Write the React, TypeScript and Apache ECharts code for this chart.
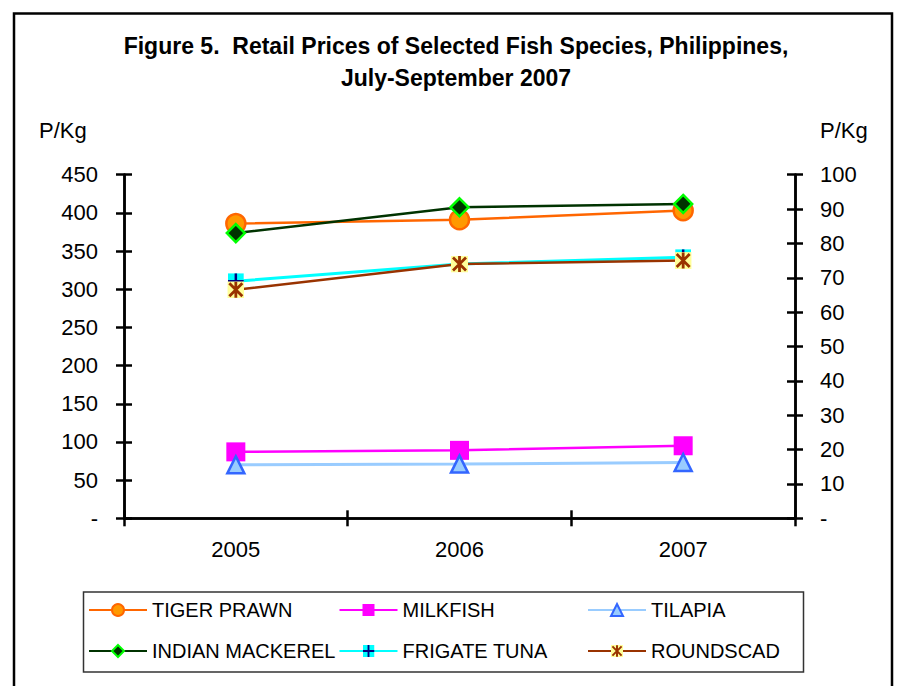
import React, { useEffect, useRef } from "react";
import * as echarts from "echarts";

const years = ["2005", "2006", "2007"];
const tigerPrawn = [386, 391, 403];
const milkfish = [87, 89, 95];
const tilapia = [70, 71, 73];
const indianMackerel = [83, 90.5, 91.5];
const frigateTuna = [69, 74, 76];
const roundscad = [66.5, 74, 75];

const seriesNames = [
  "TIGER PRAWN",
  "MILKFISH",
  "TILAPIA",
  "INDIAN MACKEREL",
  "FRIGATE TUNA",
  "ROUNDSCAD",
];

const titleLines = [
  "Figure 5.  Retail Prices of Selected Fish Species, Philippines,",
  "July-September 2007",
];

const FONT = "'Liberation Sans', Arial, Helvetica, sans-serif";

const svgUri = (s: string) =>
  "image://data:image/svg+xml;charset=utf-8," + encodeURIComponent(s);

const roundscadSymbol = svgUri(
  '<svg xmlns="http://www.w3.org/2000/svg" width="34" height="34" viewBox="0 0 17 17"><rect width="17" height="17" fill="#FFFF99"/><path d="M2 2L15 15M15 2L2 15M8.5 0.5V16.5" stroke="#993300" stroke-width="2.8" fill="none"/></svg>'
);
const frigateSymbol = svgUri(
  '<svg xmlns="http://www.w3.org/2000/svg" width="32" height="32" viewBox="0 0 16 16"><rect width="16" height="16" fill="#00FFFF"/><path d="M8 0V16M0 8H16" stroke="#000080" stroke-width="2.5" fill="none"/></svg>'
);

export default function App() {
  const ref = useRef<HTMLDivElement>(null);
  useEffect(() => {
    if (!ref.current) return;
    const chart = echarts.init(ref.current, null, { renderer: "svg" });
    const tickFmt = (v: number) => (v === 0 ? "-" : String(v));
    const axisLineStyle = { color: "#000", width: 2.5 };
    const baseY = (pos: string, max: number, interval: number) => ({
      type: "value",
      position: pos,
      min: 0,
      max,
      interval,
      splitLine: { show: false },
    });
    const colLefts = [88, 338.5, 587];
    const rowTops = [599, 640];
    const legends = seriesNames.map((name, i) => ({
      left: colLefts[i % 3],
      top: rowTops[Math.floor(i / 3)],
      orient: "horizontal",
      padding: 0,
      itemWidth: 58,
      itemHeight: 15,
      textStyle: {
        fontFamily: FONT,
        fontSize: 20,
        color: "#000",
        lineHeight: 22,
      },
      data: [name],
    }));
    chart.setOption({
      animation: false,
      grid: { left: 124, right: 102, top: 174.7, bottom: 167.7 },
      graphic: [
        {
          type: "rect",
          shape: { x: 14, y: 13.5, width: 878, height: 720 },
          style: { fill: "none", stroke: "#000", lineWidth: 2.5 },
        },
        {
          type: "rect",
          shape: { x: 83.5, y: 592, width: 720, height: 80 },
          style: { fill: "none", stroke: "#333", lineWidth: 1.5 },
        },
        {
          type: "text",
          x: 456,
          y: 46,
          style: {
            text: titleLines[0],
            font: `bold 23px ${FONT}`,
            fill: "#000",
            textAlign: "center",
            textVerticalAlign: "middle",
          },
        },
        {
          type: "text",
          x: 456,
          y: 78,
          style: {
            text: titleLines[1],
            font: `bold 23px ${FONT}`,
            fill: "#000",
            textAlign: "center",
            textVerticalAlign: "middle",
          },
        },
        {
          type: "text",
          x: 39,
          y: 130,
          style: {
            text: "P/Kg",
            font: `22px ${FONT}`,
            fill: "#000",
            textAlign: "left",
            textVerticalAlign: "middle",
          },
        },
        {
          type: "text",
          x: 820,
          y: 130,
          style: {
            text: "P/Kg",
            font: `22px ${FONT}`,
            fill: "#000",
            textAlign: "left",
            textVerticalAlign: "middle",
          },
        },
      ],
      legend: legends,
      xAxis: [
        {
          type: "category",
          data: years,
          boundaryGap: true,
          position: "bottom",
          axisLine: { show: true, lineStyle: axisLineStyle },
          axisTick: { show: true, interval: 0, length: 8, lineStyle: axisLineStyle },
          axisLabel: { fontFamily: FONT, fontSize: 22, color: "#000", margin: 20 },
        },
        {
          type: "category",
          data: years,
          boundaryGap: true,
          position: "bottom",
          axisLine: { show: true, lineStyle: axisLineStyle },
          axisTick: { show: true, inside: true, interval: 0, length: 8, lineStyle: axisLineStyle },
          axisLabel: { show: false },
        },
      ],
      yAxis: [
        {
          ...baseY("left", 450, 50),
          axisLine: { show: true, lineStyle: axisLineStyle },
          axisTick: { show: true, length: 8, lineStyle: axisLineStyle },
          axisLabel: {
            formatter: tickFmt,
            fontFamily: FONT,
            fontSize: 22,
            color: "#000",
            margin: 26,
          },
        },
        {
          ...baseY("right", 100, 10),
          axisLine: { show: true, lineStyle: axisLineStyle },
          axisTick: { show: true, length: 8, lineStyle: axisLineStyle },
          axisLabel: {
            formatter: tickFmt,
            fontFamily: FONT,
            fontSize: 22,
            color: "#000",
            margin: 25,
          },
        },
        {
          ...baseY("left", 450, 50),
          axisLine: { show: true, lineStyle: axisLineStyle },
          axisTick: { show: true, inside: true, length: 8, lineStyle: axisLineStyle },
          axisLabel: { show: false },
        },
        {
          ...baseY("right", 100, 10),
          axisLine: { show: true, lineStyle: axisLineStyle },
          axisTick: { show: true, inside: true, length: 8, lineStyle: axisLineStyle },
          axisLabel: { show: false },
        },
      ],
      series: [
        {
          name: seriesNames[0],
          type: "line",
          yAxisIndex: 0,
          data: tigerPrawn,
          symbol: "circle",
          symbolSize: 19,
          lineStyle: { color: "#FF6600", width: 2.5 },
          itemStyle: { color: "#FF9900", borderColor: "#FF6600", borderWidth: 2.5 },
        },
        {
          name: seriesNames[1],
          type: "line",
          yAxisIndex: 0,
          data: milkfish,
          symbol: "rect",
          symbolSize: 19,
          lineStyle: { color: "#FF00FF", width: 2.5 },
          itemStyle: { color: "#FF00FF", borderColor: "#FF00FF", borderWidth: 0 },
        },
        {
          name: seriesNames[2],
          type: "line",
          yAxisIndex: 0,
          data: tilapia,
          symbol: "triangle",
          symbolSize: 17,
          lineStyle: { color: "#99CCFF", width: 3 },
          itemStyle: { color: "#99CCFF", borderColor: "#3366FF", borderWidth: 2.5 },
        },
        {
          name: seriesNames[3],
          type: "line",
          yAxisIndex: 1,
          data: indianMackerel,
          symbol: "diamond",
          symbolSize: 18,
          lineStyle: { color: "#003300", width: 2.5 },
          itemStyle: { color: "#003300", borderColor: "#00FF00", borderWidth: 2.5 },
        },
        {
          name: seriesNames[4],
          type: "line",
          yAxisIndex: 1,
          data: frigateTuna,
          symbol: frigateSymbol,
          symbolSize: 16,
          lineStyle: { color: "#00FFFF", width: 3 },
          itemStyle: { color: "#00FFFF" },
        },
        {
          name: seriesNames[5],
          type: "line",
          yAxisIndex: 1,
          data: roundscad,
          symbol: roundscadSymbol,
          symbolSize: 17,
          lineStyle: { color: "#993300", width: 2.5 },
          itemStyle: { color: "#993300" },
        },
      ],
    });
    return () => chart.dispose();
  }, []);
  return (
    <div
      ref={ref}
      style={{ position: "fixed", left: 0, top: 0, width: 897, height: 686, background: "#fff" }}
    />
  );
}
